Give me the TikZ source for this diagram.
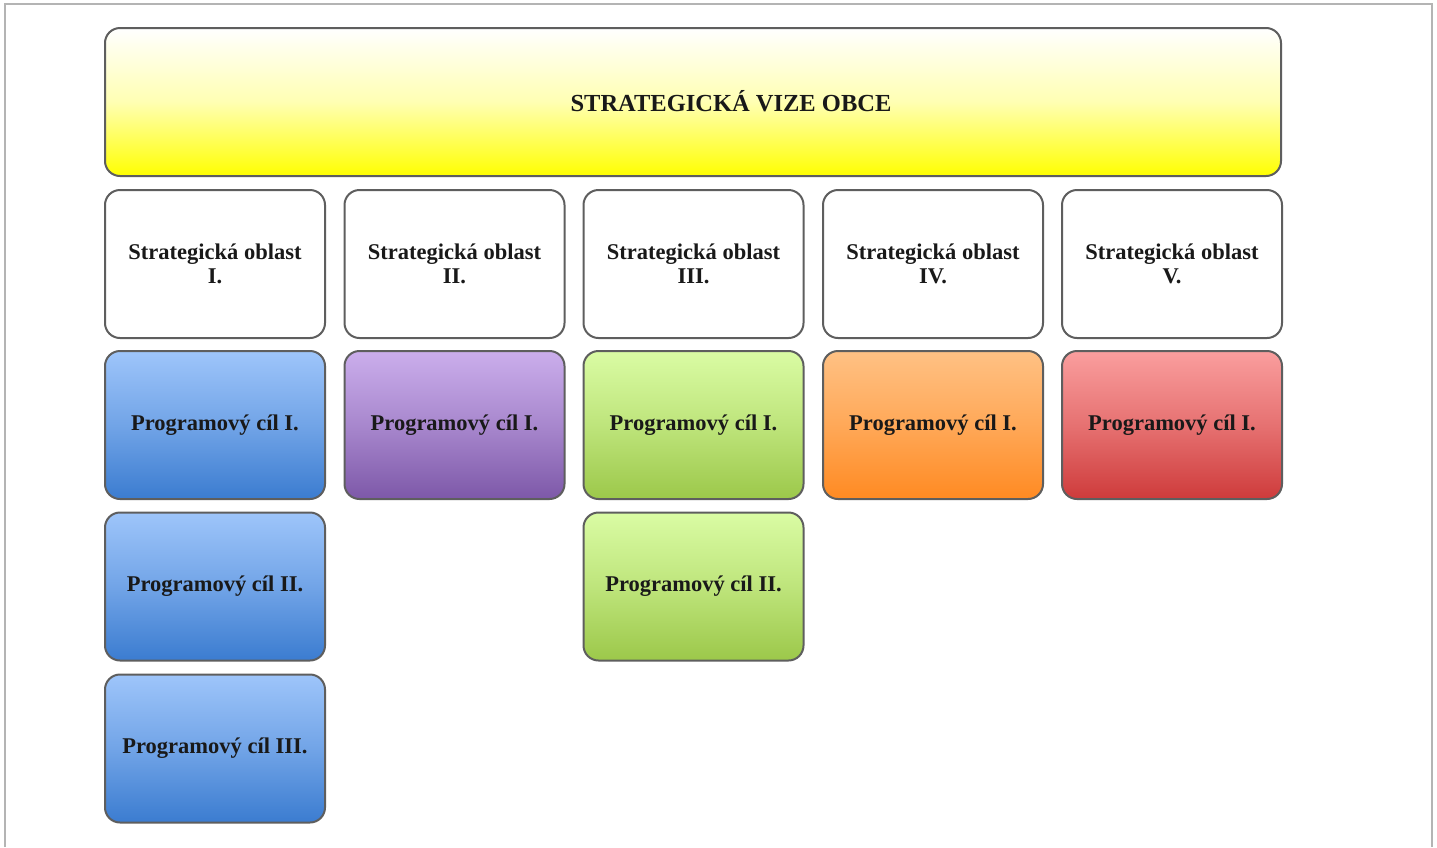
\documentclass[tikz,border=0pt]{standalone}
\usepackage{fontspec}
\setmainfont{Liberation Serif}
\definecolor{edge}{HTML}{5E5E5E}
\definecolor{frame}{HTML}{B4B4B4}
\definecolor{blueT}{HTML}{9EC5FA}
\definecolor{blueB}{HTML}{3B7CD0}
\definecolor{purT}{HTML}{CBAEEC}
\definecolor{purB}{HTML}{7D58A8}
\definecolor{grnT}{HTML}{DAFCA4}
\definecolor{grnB}{HTML}{9CC84A}
\definecolor{orgT}{HTML}{FFC184}
\definecolor{orgB}{HTML}{FF8A22}
\definecolor{redT}{HTML}{FA9E9E}
\definecolor{redB}{HTML}{CE3B3B}
\begin{document}
\begin{tikzpicture}[x=1pt,y=-1pt,
  box/.style={draw=edge, line width=2pt, rounded corners=15pt,
    minimum width=220pt, minimum height=148pt, inner sep=2pt,
    font=\fontsize{22.5}{23.5}\selectfont\bfseries, align=center, text=black!90},
  blue/.style={box, top color=blueT, bottom color=blueB, middle color=blueT!55!blueB},
  purple/.style={box, top color=purT, bottom color=purB, middle color=purT!55!purB},
  green/.style={box, top color=grnT, bottom color=grnB, middle color=grnT!55!grnB},
  orange/.style={box, top color=orgT, bottom color=orgB, middle color=orgT!55!orgB},
  red/.style={box, top color=redT, bottom color=redB, middle color=redT!55!redB},
  area/.style={box, fill=white}]
\useasboundingbox (0,0) rectangle (1437,847);
\fill[white] (0,0) rectangle (1437,847);
\draw[frame, line width=2pt] (5,847) -- (5,4) -- (1432,4) -- (1432,847);

\node[box, minimum width=1176pt, minimum height=148pt,
  top color=white, bottom color=yellow, middle color=yellow!30!white] (top) at (693,102) {};
\node[font=\fontsize{24.5}{26}\selectfont\bfseries, text=black!90, inner sep=0pt] (title) at (731,101) {STRATEGICKÁ VIZE OBCE};

\node[area] (s1) at (215,264) {Strategická oblast\\I.};
\node[area] (s2) at (454.5,264) {Strategická oblast\\II.};
\node[area] (s3) at (693.5,264) {Strategická oblast\\III.};
\node[area] (s4) at (933,264) {Strategická oblast\\IV.};
\node[area] (s5) at (1172,264) {Strategická oblast\\V.};

\node[blue] (p11) at (215,425) {Programový cíl I.};
\node[blue] (p12) at (215,586.5) {Programový cíl II.};
\node[blue] (p13) at (215,748.5) {Programový cíl III.};
\node[purple] (p21) at (454.5,425) {Programový cíl I.};
\node[green] (p31) at (693.5,425) {Programový cíl I.};
\node[green] (p32) at (693.5,586.5) {Programový cíl II.};
\node[orange] (p41) at (933,425) {Programový cíl I.};
\node[red] (p51) at (1172,425) {Programový cíl I.};
\end{tikzpicture}
\end{document}
